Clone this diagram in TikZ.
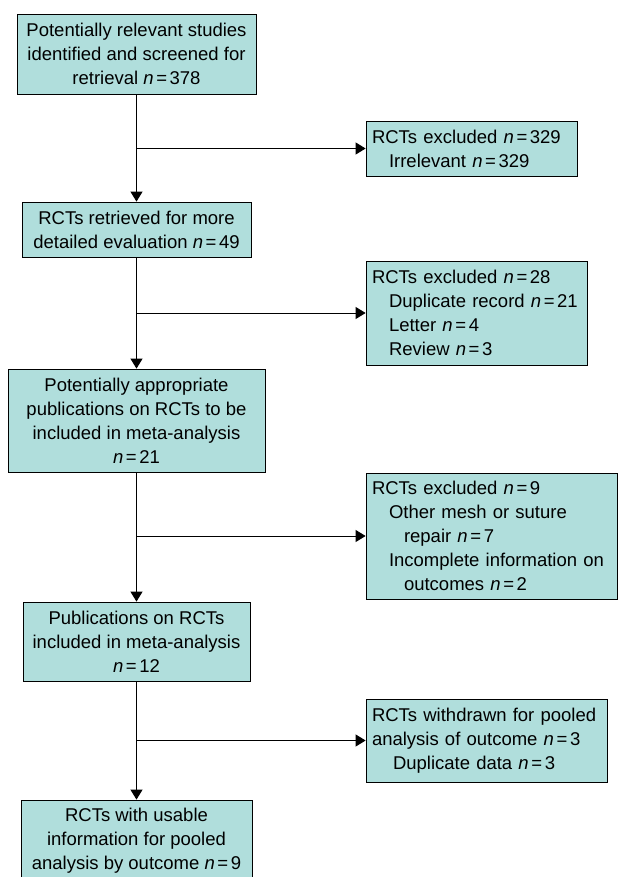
\documentclass[tikz,border=0pt]{standalone}
\usepackage{fontspec}
\setmainfont{Liberation Sans}
\usetikzlibrary{arrows.meta}
\definecolor{boxfill}{RGB}{176,222,220}
\newcommand{\nval}[1]{\textit{n}\kern2.6pt=\kern2.6pt#1}

\begin{document}
\begin{tikzpicture}[every node/.style={draw, fill=boxfill, line width=.8pt, inner ysep=0pt, font={\fontsize{18.5}{24}\selectfont}},
  mainbox/.style={align=center},
  sidebox/.style={align=left, inner xsep=6pt},
  link/.style={line width=1pt, -{Triangle[width=12pt, length=10pt]}}]
  \useasboundingbox (0pt, 0pt) rectangle (618pt, -877pt);
  \node (screened) [mainbox, minimum width=239pt, minimum height=80pt] at (136.5pt, -54pt) {Potentially relevant studies\\identified and screened for\\retrieval \nval{378}};
  \node (irrel) [sidebox, text width=199pt, minimum height=55pt] at (471.5pt, -148.5pt) {RCTs excluded \nval{329}\\\hspace*{17pt}Irrelevant \nval{329}};
  \node (retrieved) [mainbox, minimum width=229pt, minimum height=55pt] at (136.5pt, -229.5pt) {RCTs retrieved for more\\detailed evaluation \nval{49}};
  \node (dup) [sidebox, text width=209pt, minimum height=104pt] at (476.5pt, -313pt) {RCTs excluded \nval{28}\\\hspace*{17pt}Duplicate record \nval{21}\\\hspace*{17pt}Letter \nval{4}\\\hspace*{17pt}Review \nval{3}};
  \node (appropriate) [mainbox, minimum width=257pt, minimum height=103pt] at (136.5pt, -420.5pt) {Potentially appropriate\\publications on RCTs to be\\included in meta-analysis\\\nval{21}};
  \node (other) [sidebox, text width=239pt, minimum height=126pt] at (491.5pt, -536pt) {RCTs excluded \nval{9}\\\hspace*{17pt}Other mesh or suture\\\hspace*{32pt}repair \nval{7}\\\hspace*{17pt}Incomplete information on\\\hspace*{32pt}outcomes \nval{2}};
  \node (included) [mainbox, minimum width=227pt, minimum height=79pt] at (136.5pt, -641.5pt) {Publications on RCTs\\included in meta-analysis\\\nval{12}};
  \node (withdrawn) [sidebox, text width=229pt, minimum height=83pt] at (486.5pt, -740.5pt) {RCTs withdrawn for pooled\\analysis of outcome \nval{3}\\\hspace*{21pt}Duplicate data \nval{3}};
  \node (usable) [mainbox, minimum width=231pt, minimum height=81pt] at (136.5pt, -840.5pt) {RCTs with usable\\information for pooled\\analysis by outcome \nval{9}};
  \draw[link] (screened) -- (retrieved);
  \draw[link] (screened.south |- irrel.west) -- (irrel.west);
  \draw[link] (retrieved) -- (appropriate);
  \draw[link] (retrieved.south |- dup.west) -- (dup.west);
  \draw[link] (appropriate) -- (included);
  \draw[link] (appropriate.south |- other.west) -- (other.west);
  \draw[link] (included) -- (usable);
  \draw[link] (included.south |- withdrawn.west) -- (withdrawn.west);
\end{tikzpicture}
\end{document}
